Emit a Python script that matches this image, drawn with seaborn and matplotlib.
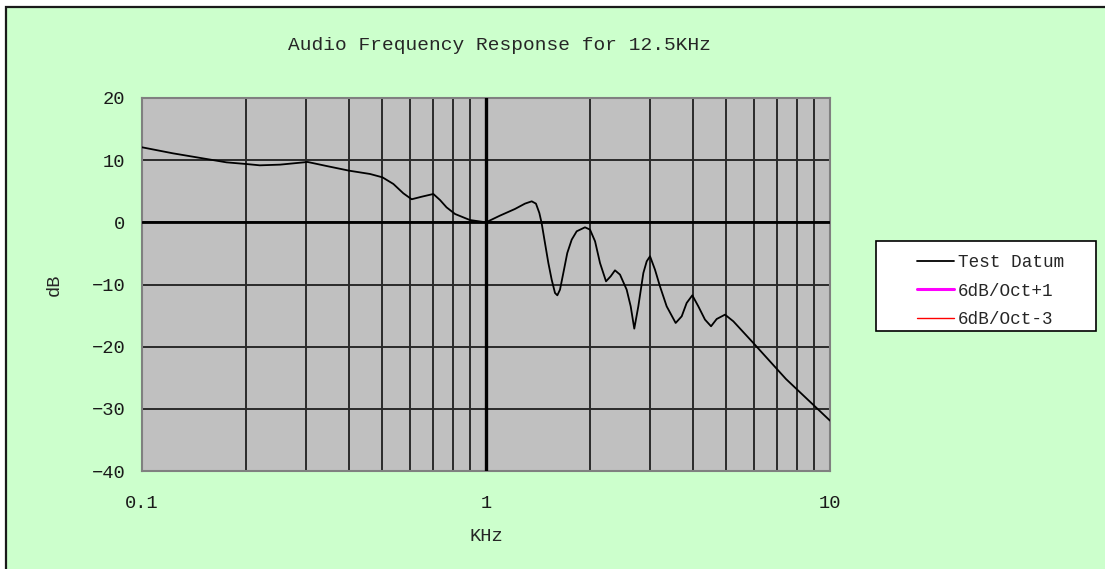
import numpy as np
import pandas as pd
import matplotlib
matplotlib.use('Agg')
import matplotlib.pyplot as plt
import seaborn as sns
from matplotlib.patches import Rectangle
from matplotlib.ticker import LogLocator, NullFormatter, FixedLocator

# data
freq_khz = [0.1, 0.123, 0.154, 0.176, 0.201, 0.22, 0.252, 0.303, 0.344, 0.4,
            0.46, 0.5, 0.538, 0.575, 0.608, 0.65, 0.703, 0.735, 0.768, 0.813,
            0.898, 1.0, 1.098, 1.214, 1.298, 1.358, 1.397, 1.429, 1.451, 1.484,
            1.518, 1.552, 1.587, 1.612, 1.641, 1.678, 1.723, 1.775, 1.835, 1.94,
            2.006, 2.075, 2.145, 2.233, 2.304, 2.371, 2.452, 2.564, 2.634, 2.698,
            2.772, 2.867, 2.932, 2.998, 3.099, 3.204, 3.351, 3.559, 3.706, 3.831,
            3.979, 4.142, 4.331, 4.51, 4.684, 4.952, 5.236, 5.984, 7.447, 10.0]
test_datum = [12.07, 11.1, 10.19, 9.65, 9.38, 9.17, 9.28, 9.71, 9.06, 8.31,
              7.78, 7.24, 6.17, 4.67, 3.71, 4.12, 4.56, 3.59, 2.41, 1.34,
              0.37, 0.0, 1.08, 2.15, 3.01, 3.38, 3.01, 1.51, -0.10, -3.32,
              -6.54, -9.22, -11.36, -11.74, -10.83, -8.15, -4.93, -2.78, -1.44, -0.80,
              -1.17, -3.05, -6.54, -9.49, -8.68, -7.72, -8.41, -10.83, -13.51, -17.1,
              -13.51, -8.15, -6.27, -5.46, -7.61, -10.29, -13.51, -16.19, -15.12, -12.97,
              -11.74, -13.51, -15.65, -16.72, -15.55, -14.85, -15.92, -19.4, -25.2, -31.9]
# reference lines appear in the legend only
oct_plus1 = []
oct_minus3 = []

y_ticks = [20, 10, 0, -10, -20, -30, -40]
x_ticks = [0.1, 1, 10]
x_tick_labels = ['0.1', '1', '10']

W, H = 1105, 569
sns.set_style('white')
plt.rcParams['font.family'] = ['Liberation Mono', 'DejaVu Sans']
FS = 13.5

fig = plt.figure(figsize=(W / 100, H / 100), dpi=100, facecolor='white')
# green chart area, only its top and left border fall inside the picture
fig.patches.append(Rectangle((6 / W, -0.5), 1.5, 1.5 - 7 / H, transform=fig.transFigure,
                             facecolor='#CCFFCC', edgecolor='#1a1a1a', linewidth=1.6,
                             zorder=-10))

ax = fig.add_axes([142 / W, 1 - 471 / H, (830 - 142) / W, (471 - 98) / H])
ax.set_facecolor('#C0C0C0')

df = pd.DataFrame({'KHz': freq_khz, 'dB': test_datum})
sns.lineplot(data=df, x='KHz', y='dB', ax=ax, color='black', linewidth=1.3,
             estimator=None, sort=False, label='Test Datum', legend=False, zorder=5)
ax.plot(oct_plus1, oct_plus1, color='magenta', linewidth=2.2, label='6dB/Oct+1')
ax.plot(oct_minus3, oct_minus3, color='red', linewidth=1.0, label='6dB/Oct-3')

ax.set_xscale('log')
ax.set_xlim(0.1, 10)
ax.set_ylim(-40, 20)
ax.xaxis.set_major_locator(FixedLocator(x_ticks))
ax.set_xticklabels(x_tick_labels)
ax.xaxis.set_minor_locator(LogLocator(base=10, subs=np.arange(2, 10)))
ax.xaxis.set_minor_formatter(NullFormatter())
ax.set_yticks(y_ticks)
ax.set_yticklabels([str(v).replace('-', '\u2212') for v in y_ticks])

ax.grid(True, which='both', axis='x', color='#2a2a2a', linewidth=1.4, zorder=1)
ax.grid(True, which='major', axis='y', color='#2a2a2a', linewidth=1.4, zorder=1)
ax.set_axisbelow(True)
ax.axhline(0, color='black', linewidth=2.0, zorder=3)
ax.axvline(1, color='black', linewidth=2.4, zorder=3)

ax.tick_params(axis='both', which='both', length=0, labelsize=FS, colors='#1a1a1a')
ax.tick_params(axis='x', pad=17)
ax.tick_params(axis='y', pad=12)
for s in ax.spines.values():
    s.set_color('#808080')
    s.set_linewidth(1.5)

ax.set_xlabel('KHz', fontsize=FS, labelpad=12)
ax.set_ylabel('dB', fontsize=FS, labelpad=21)

fig.text(500 / W, 1 - 45 / H, 'Audio Frequency Response for 12.5KHz',
         ha='center', va='center', fontsize=14)

# legend: white box drawn on its own, entries placed inside without a frame
fig.patches.append(Rectangle((876 / W, 1 - 331 / H), 220 / W, 90 / H,
                             transform=fig.transFigure, facecolor='white',
                             edgecolor='black', linewidth=1.2, zorder=5))
handles, labels = ax.get_legend_handles_labels()
leg = fig.legend(handles, labels, loc='upper left',
                 bbox_to_anchor=(912 / W, 1 - 249 / H),
                 bbox_transform=fig.transFigure, borderaxespad=0, frameon=False,
                 fontsize=12.7, handlelength=2.1, handletextpad=0.2,
                 labelspacing=0.64, borderpad=0.3)
leg.set_zorder(10)

fig.savefig('out.png', dpi=100, facecolor=fig.get_facecolor())
